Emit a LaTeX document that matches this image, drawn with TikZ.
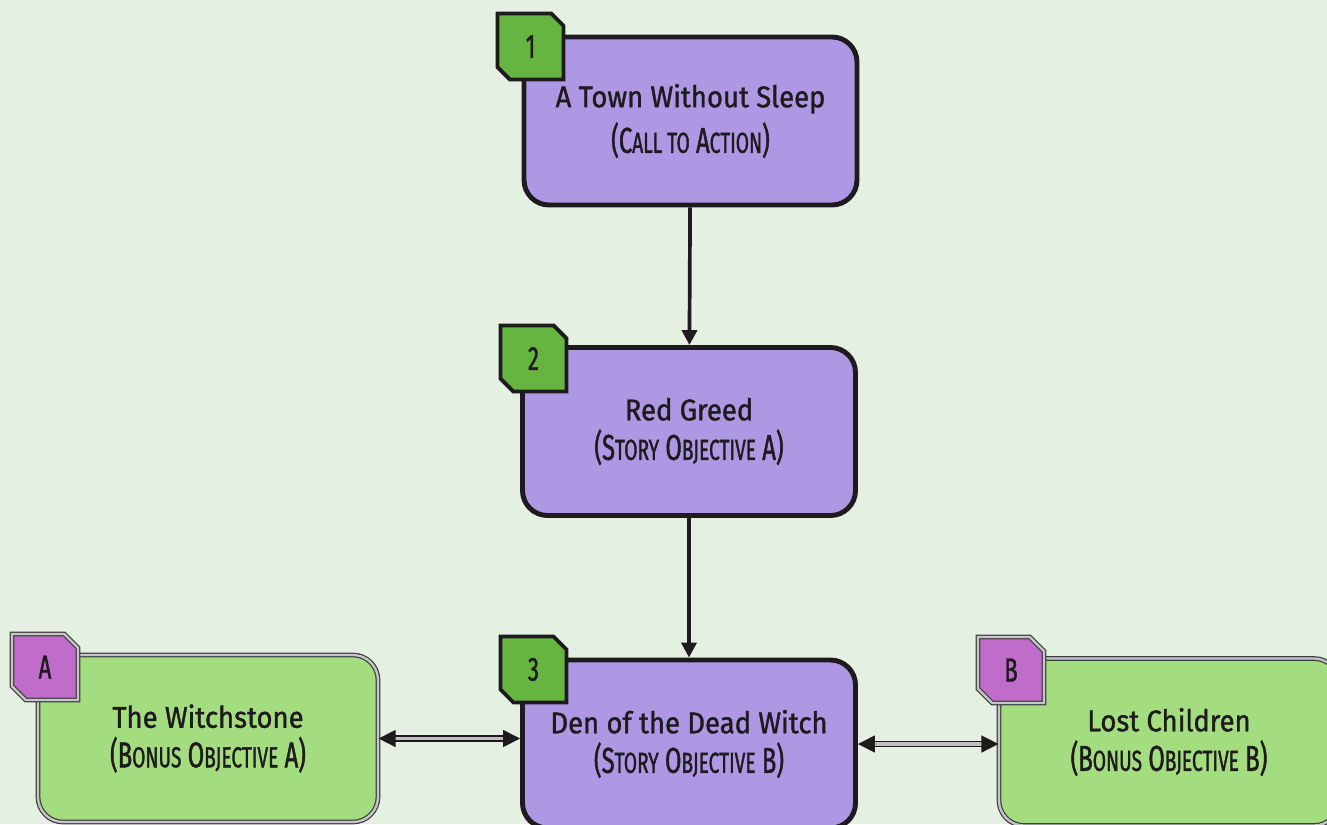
\documentclass[tikz,border=0pt]{standalone}
\usepackage{fontspec}
\setmainfont{Fira Sans}
\newfontfamily\titlefont[FakeBold=1.2,FakeStretch=0.92]{Fira Sans}
\newfontfamily\narrowfont[FakeBold=1.2,FakeStretch=0.66]{Fira Sans}
\usetikzlibrary{shapes.misc,arrows.meta}
\definecolor{fondo}{HTML}{E4F0E2}
\definecolor{lila}{HTML}{AE98E4}
\definecolor{verde}{HTML}{A3DD80}
\definecolor{verdeosc}{HTML}{66B540}
\definecolor{rosa}{HTML}{BF6CCB}
\definecolor{linea}{HTML}{1E1A1E}
\newcommand\sm[1]{{\fontsize{16.5}{18}\selectfont #1}}
\newcommand\titulo[2]{{\titlefont\fontsize{17}{19}\selectfont #1}\\[4pt]{\narrowfont\fontsize{20.5}{22}\selectfont #2}}
\tikzstyle{story}=[draw=linea,line width=2.8pt,fill=lila,rounded corners=0.5cm,minimum width=6.66cm,minimum height=3.36cm,align=center,text=linea]
\tikzstyle{bonus}=[draw=black!75,double=gray!45,line width=0.7pt,double distance=1.3pt,fill=verde,rounded corners=0.5cm,minimum width=6.8cm,minimum height=3.34cm,align=center,text=linea]
\tikzstyle{tag}=[chamfered rectangle,chamfered rectangle corners={north east,south west},chamfered rectangle xsep=0.15cm,chamfered rectangle ysep=0.15cm,inner sep=0pt,minimum size=1.32cm,text=linea,font=\narrowfont\fontsize{19}{21}\selectfont]
\tikzstyle{storytag}=[tag,draw=linea,line width=2.2pt,fill=verdeosc]
\tikzstyle{bonustag}=[tag,draw=black!75,double=gray!45,line width=0.7pt,double distance=1.3pt,fill=rosa]
\tikzstyle{flecha}=[-{Triangle[length=0.3cm,width=0.3cm]},line width=2.1pt,draw=linea]
\tikzstyle{doble}=[{Triangle[length=0.34cm,width=0.34cm]}-{Triangle[length=0.34cm,width=0.34cm]},draw=linea,double=gray!50,line width=0.9pt,double distance=1.8pt]

\begin{document}
\begin{tikzpicture}
    \fill [fondo] (0,0) rectangle (26.54,-16.48);
    \useasboundingbox (0,0) rectangle (26.54,-16.48);
    \node [story] (town) at (13.81,-2.42) {\titulo{A Town Without Sleep}{(C\sm{ALL TO} A\sm{CTION})}};
    \node [story] (greed) at (13.78,-8.63) {\titulo{Red Greed}{(S\sm{TORY} O\sm{BJECTIVE} A)}};
    \node [story] (den) at (13.78,-14.88) {\titulo{Den of the Dead Witch}{(S\sm{TORY} O\sm{BJECTIVE} B)}};
    \node [bonus] (stone) at (4.16,-14.77) {\titulo{The Witchstone}{(B\sm{ONUS} O\sm{BJECTIVE} A)}};
    \node [bonus] (lost) at (23.38,-14.84) {\titulo{Lost Children}{(B\sm{ONUS} O\sm{BJECTIVE} B)}};
    \node [storytag] (t1) at (10.61,-0.93) {1};
    \node [storytag] (t2) at (10.67,-7.17) {2};
    \node [storytag] (t3) at (10.67,-13.39) {3};
    \node [bonustag] (ta) at (0.9,-13.34) {A};
    \node [bonustag] (tb) at (20.22,-13.4) {B};
    \draw [flecha] (town) -- (greed);
    \draw [flecha] (greed) -- (den);
    \draw [doble] (stone.east) -- (stone.east -| den.west);
    \draw [doble] (den.east) -- (den.east -| lost.west);
\end{tikzpicture}
\end{document}
